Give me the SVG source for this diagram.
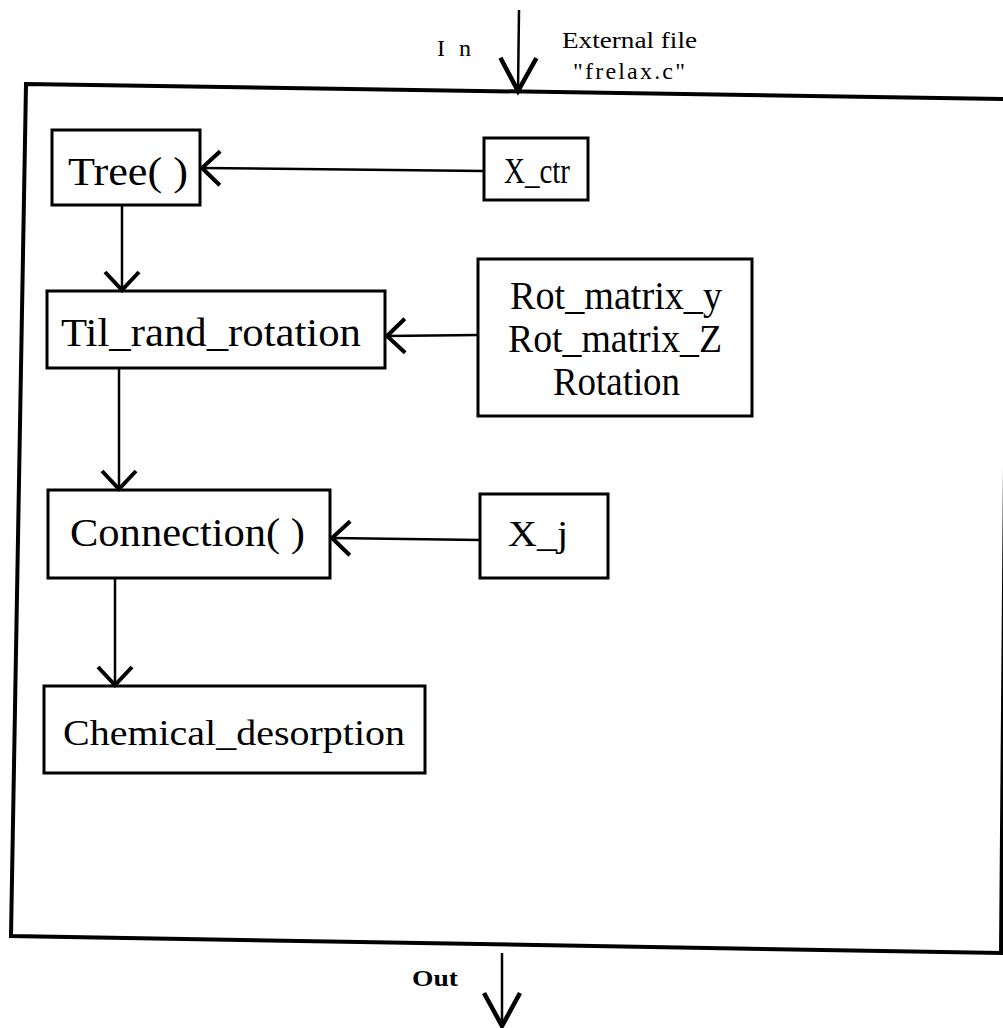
<svg xmlns="http://www.w3.org/2000/svg" width="1003" height="1028" viewBox="0 0 1003 1028">
  <style>
    .box { fill: #fff; stroke: #000; stroke-width: 3; }
    .frame { fill: none; stroke: #000; stroke-width: 4; stroke-linejoin: miter; }
    .lbl { font-family: "Liberation Serif", "Times New Roman", serif; font-size: 40px; fill: #000; }
    .mid { font-family: "Liberation Serif", "Times New Roman", serif; font-size: 36px; fill: #000; }
    .small { font-family: "Liberation Serif", "Times New Roman", serif; font-size: 24px; fill: #000; }
    .wire { fill: none; stroke: #000; stroke-width: 2.5; }
  </style>
  <defs>
    <!-- open V head for the internal calls -->
    <marker id="vhead" markerUnits="userSpaceOnUse" markerWidth="44" markerHeight="44" viewBox="0 0 44 44" refX="22" refY="22" orient="auto">
      <path d="M 4 5 L 22 22 L 4 39" fill="none" stroke="#000" stroke-width="4"/>
    </marker>
    <!-- narrower, longer V head for the module input/output -->
    <marker id="iohead" markerUnits="userSpaceOnUse" markerWidth="50" markerHeight="50" viewBox="0 0 50 50" refX="40" refY="25" orient="auto">
      <path d="M 7 7 L 40 25 L 7 43" fill="none" stroke="#000" stroke-width="4.5"/>
    </marker>
  </defs>

  <rect width="1003" height="1028" fill="#fff"/>

  <!-- enclosing module frame -->
  <g id="module">
    <polygon class="frame" points="26,84 1008,99 1001,953 11,936"/>
  </g>

  <g id="tree">
    <rect class="box" x="52" y="130" width="148" height="75"/>
    <text class="lbl" x="68" y="185" textLength="120" lengthAdjust="spacingAndGlyphs">Tree(  )</text>
  </g>
  <g id="x_ctr">
    <rect class="box" x="484" y="138" width="104" height="62"/>
    <text class="mid" x="504" y="183" textLength="66" lengthAdjust="spacingAndGlyphs">X_ctr</text>
  </g>
  <g id="til_rand_rotation">
    <rect class="box" x="47" y="291" width="338" height="77"/>
    <text class="lbl" x="61" y="346" textLength="300" lengthAdjust="spacingAndGlyphs">Til_rand_rotation</text>
  </g>
  <g id="rotation_set">
    <rect class="box" x="478" y="259" width="274" height="157"/>
    <text class="lbl" x="510" y="309" textLength="212" lengthAdjust="spacingAndGlyphs">Rot_matrix_y</text>
    <text class="lbl" x="508" y="352" textLength="214" lengthAdjust="spacingAndGlyphs">Rot_matrix_Z</text>
    <text class="lbl" x="553" y="395" textLength="127" lengthAdjust="spacingAndGlyphs">Rotation</text>
  </g>
  <g id="connection">
    <rect class="box" x="48" y="490" width="282" height="88"/>
    <text class="lbl" x="70" y="546" textLength="235" lengthAdjust="spacingAndGlyphs">Connection(  )</text>
  </g>
  <g id="x_j">
    <rect class="box" x="480" y="494" width="128" height="84"/>
    <text class="mid" x="508" y="546" textLength="60" lengthAdjust="spacingAndGlyphs">X_j</text>
  </g>
  <g id="chemical_desorption">
    <rect class="box" x="44" y="686" width="381" height="87"/>
    <text class="mid" x="63" y="745" textLength="342" lengthAdjust="spacingAndGlyphs">Chemical_desorption</text>
  </g>

  <!-- external labels -->
  <g id="io_labels">
    <text class="small" x="437" y="56" textLength="34" lengthAdjust="spacing">I n</text>
    <text class="small" x="562" y="48" textLength="135" lengthAdjust="spacingAndGlyphs">External file</text>
    <text class="small" x="573" y="79" textLength="112" lengthAdjust="spacing">"frelax.c"</text>
    <text class="small" x="412" y="986" textLength="46" lengthAdjust="spacingAndGlyphs" font-weight="bold">Out</text>
  </g>

  <!-- connectors -->
  <g id="connectors">
    <line class="wire" x1="519" y1="10" x2="518" y2="91" marker-end="url(#iohead)"/>
    <line class="wire" x1="484" y1="171" x2="202" y2="168" marker-end="url(#vhead)"/>
    <line class="wire" x1="122" y1="205" x2="122" y2="290" marker-end="url(#vhead)"/>
    <line class="wire" x1="478" y1="335" x2="387" y2="336" marker-end="url(#vhead)"/>
    <line class="wire" x1="119" y1="368" x2="119" y2="489" marker-end="url(#vhead)"/>
    <line class="wire" x1="480" y1="540" x2="332" y2="538" marker-end="url(#vhead)"/>
    <line class="wire" x1="115" y1="578" x2="115" y2="685" marker-end="url(#vhead)"/>
    <line class="wire" x1="502" y1="953" x2="502" y2="1026" marker-end="url(#iohead)"/>
  </g>
</svg>
